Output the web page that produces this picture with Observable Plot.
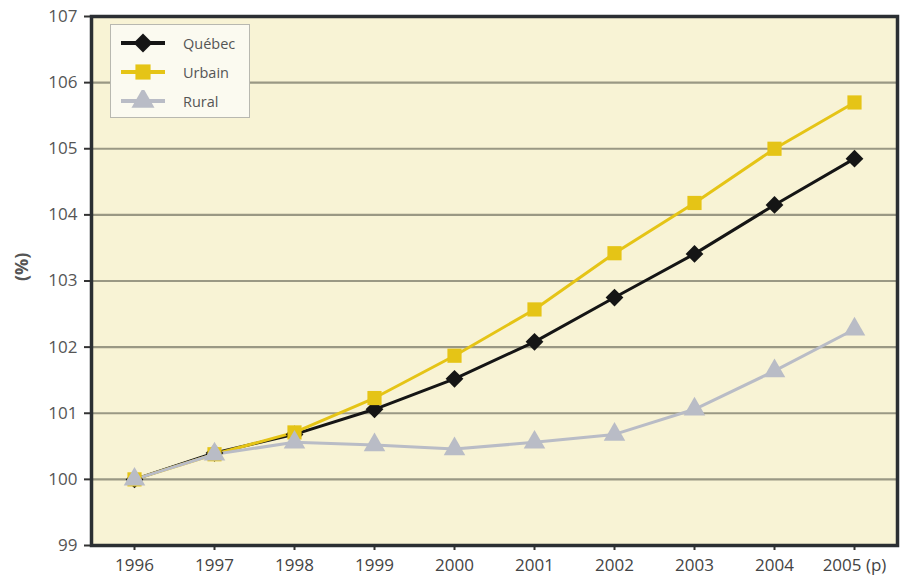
<!DOCTYPE html>
<html><head><meta charset="utf-8">
<script src="https://cdn.jsdelivr.net/npm/d3@7"></script>
<script src="https://cdn.jsdelivr.net/npm/@observablehq/plot@0.6"></script>
<style>
body{margin:0;background:#fff;font-family:"Open Sans",sans-serif;}
#wrap{position:relative;width:902px;height:579px;}
#legend{position:absolute;left:110px;top:24px;width:140px;height:94px;background:#fbfaf0;border:1px solid #b8b8b0;box-sizing:border-box;}
#legend .row{position:absolute;left:8px;height:22px;display:flex;align-items:center;}
#legend span{margin-left:16px;font-size:14.5px;color:#555;}
</style></head><body>
<div id="wrap"><div id="legend"></div></div>
<script>
const years = ["1996","1997","1998","1999","2000","2001","2002","2003","2004","2005 (p)"];
const quebec = [100.00,100.40,100.68,101.06,101.52,102.08,102.75,103.41,104.15,104.85];
const urbain = [100.00,100.38,100.71,101.23,101.87,102.57,103.42,104.18,105.00,105.70];
const rural  = [100.00,100.38,100.56,100.52,100.46,100.56,100.68,101.06,101.64,102.27];
const seriesNames = ["Québec","Urbain","Rural"];
const seriesColors = ["#151515","#e5c416","#b9bcc6"];
const seriesSymbols = ["diamond2","square","triangle"];
const yTicks = [99,100,101,102,103,104,105,106,107];

const values = [quebec, urbain, rural];
const data = [];
values.forEach((arr,si)=>arr.forEach((v,i)=>data.push({year:years[i],value:v,series:seriesNames[si]})));

const chart = Plot.plot({
  width:902,height:579,
  marginLeft:91,marginRight:5,marginTop:16,marginBottom:34,
  style:{fontFamily:"'Open Sans',sans-serif",background:"transparent"},
  x:{type:"point",domain:years,padding:0.5,label:null},
  y:{domain:[99,107],label:null},
  color:{domain:seriesNames,range:seriesColors},
  symbol:{domain:seriesNames,range:seriesSymbols},
  marks:[
    Plot.frame({fill:"#f8f3d5"}),
    Plot.ruleY(yTicks.slice(1,-1),{stroke:"#9a9884",strokeWidth:2.2}),
    Plot.axisY({ticks:yTicks,tickSize:7,tickPadding:7,fontSize:17,fill:"#555",stroke:"#333",strokeWidth:2,label:null}),
    Plot.axisX({tickSize:5,tickPadding:8,fontSize:17,fontFamily:"'Liberation Sans Narrow','Open Sans',sans-serif",fill:"#444",stroke:"#333",strokeWidth:2,label:null}),
    Plot.line(data,{x:"year",y:"value",z:"series",stroke:"series",strokeWidth:3}),
    Plot.dot(data,{x:"year",y:"value",symbol:"series",fill:"series",r:8}),
    Plot.frame({stroke:"#2b2f33",strokeWidth:3.5}),
    Plot.text(["(%)"],{frameAnchor:"left",dx:-69,rotate:-90,fontSize:18,fontWeight:"bold",fill:"#555"})
  ]
});
document.getElementById("wrap").prepend(chart);

const legend = d3.select("#legend");
seriesNames.forEach((n,i)=>{
  const row = legend.append("div").attr("class","row").style("top",(7+i*29)+"px");
  const s = row.append("svg").attr("width",48).attr("height",22);
  s.append("line").attr("x1",2).attr("x2",46).attr("y1",11).attr("y2",11).attr("stroke",seriesColors[i]).attr("stroke-width",4);
  s.append("path").attr("transform","translate(24,11)").attr("fill",seriesColors[i])
    .attr("d",d3.symbol(i===0?d3.symbolDiamond2:i===1?d3.symbolSquare:d3.symbolTriangle,230)());
  row.append("span").text(n);
});
</script>
</body></html>
